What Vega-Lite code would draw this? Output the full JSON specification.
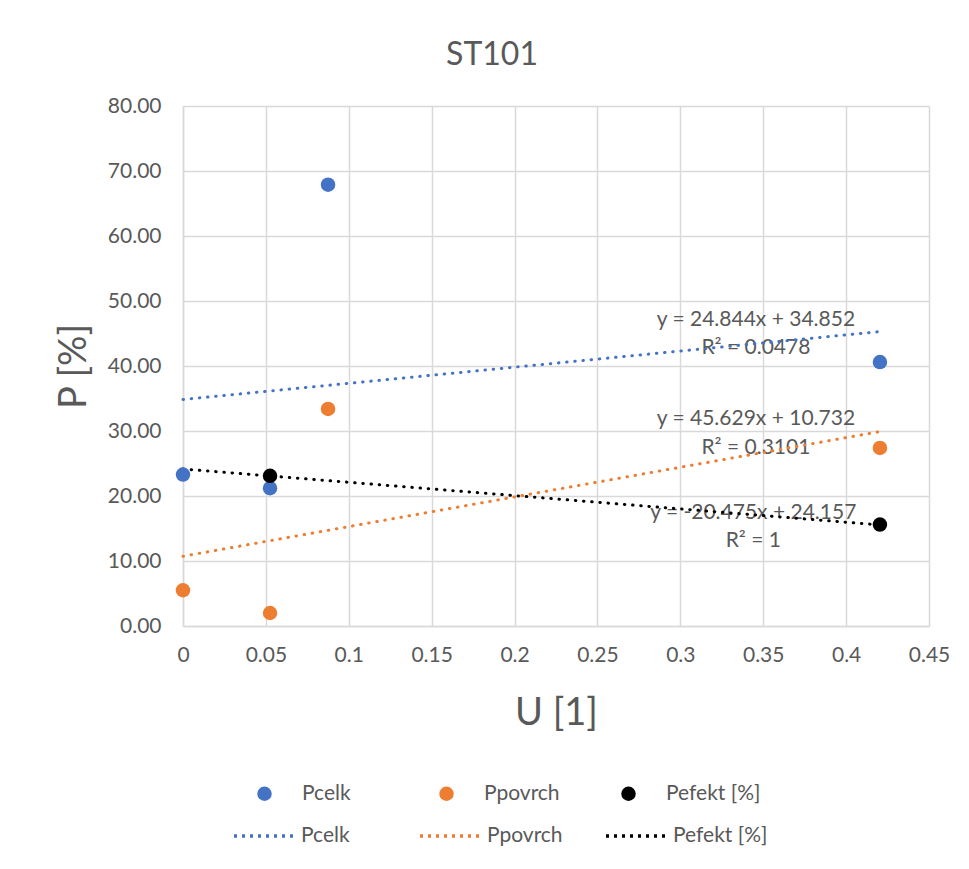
{
  "$schema": "https://vega.github.io/schema/vega-lite/v6.json",
  "width": 746,
  "height": 520,
  "autosize": {"type": "none"},
  "padding": {"left": 183, "top": 106, "right": 40, "bottom": 243},
  "background": "white",
  "title": {
    "text": "ST101",
    "font": "Lato",
    "fontSize": 32,
    "fontWeight": "normal",
    "color": "#595959",
    "anchor": "middle",
    "frame": "group",
    "dx": -64,
    "baseline": "alphabetic",
    "offset": -2
  },
  "datasets": {
    "points": [
      {"series": "Pcelk", "u": 0.0, "p": 23.3},
      {"series": "Pcelk", "u": 0.0525, "p": 21.2},
      {"series": "Pcelk", "u": 0.0875, "p": 67.9},
      {"series": "Pcelk", "u": 0.4204, "p": 40.6},
      {"series": "Ppovrch", "u": 0.0, "p": 5.5},
      {"series": "Ppovrch", "u": 0.0525, "p": 2.0},
      {"series": "Ppovrch", "u": 0.0875, "p": 33.4},
      {"series": "Ppovrch", "u": 0.4204, "p": 27.4},
      {"series": "Pefekt [%]", "u": 0.0525, "p": 23.1},
      {"series": "Pefekt [%]", "u": 0.4204, "p": 15.6}
    ],
    "trend": [
      {"trendline": "Pcelk", "u": 0.0, "p": 34.852},
      {"trendline": "Pcelk", "u": 0.4204, "p": 45.296},
      {"trendline": "Ppovrch", "u": 0.0, "p": 10.732},
      {"trendline": "Ppovrch", "u": 0.4204, "p": 29.914},
      {"trendline": "Pefekt [%]", "u": 0.0, "p": 24.157},
      {"trendline": "Pefekt [%]", "u": 0.4204, "p": 15.549}
    ],
    "labels": [
      {"u": 0.3456, "p": 47.1, "text": "y = 24.844x + 34.852"},
      {"u": 0.3456, "p": 42.8, "text": "R² = 0.0478"},
      {"u": 0.3456, "p": 31.9, "text": "y = 45.629x + 10.732"},
      {"u": 0.3456, "p": 27.4, "text": "R² = 0.3101"},
      {"u": 0.3440, "p": 17.4, "text": "y = -20.475x + 24.157"},
      {"u": 0.3440, "p": 13.1, "text": "R² = 1"}
    ]
  },
  "resolve": {"legend": {"fill": "independent", "stroke": "independent"}},
  "config": {
    "view": {"stroke": null},
    "font": "Lato",
    "axis": {
      "gridColor": "#d9d9d9",
      "gridWidth": 1.5,
      "domainColor": "#d9d9d9",
      "domainWidth": 1.5,
      "ticks": false,
      "tickSize": 0,
      "labelFlush": false,
      "labelColor": "#595959",
      "labelFont": "Lato",
      "labelFontSize": 21,
      "titleColor": "#595959",
      "titleFont": "Lato",
      "titleFontWeight": "normal",
      "titleFontSize": 38
    },
    "legend": {
      "labelColor": "#595959",
      "labelFont": "Lato",
      "labelFontSize": 21,
      "padding": 0,
      "gridAlign": "all",
      "direction": "horizontal",
      "orient": "none",
      "title": null,
      "symbolOpacity": 1
    }
  },
  "layer": [
    {
      "data": {"name": "labels"},
      "mark": {"type": "text", "font": "Lato", "fontSize": 21, "color": "#595959", "align": "center", "baseline": "middle"},
      "encoding": {
        "x": {"field": "u", "type": "quantitative", "scale": {"domain": [0, 0.45]}},
        "y": {"field": "p", "type": "quantitative", "scale": {"domain": [0, 80]}},
        "text": {"field": "text"}
      }
    },
    {
      "data": {"name": "trend"},
      "mark": {"type": "line", "strokeWidth": 3, "strokeDash": [0.5, 7.7], "strokeCap": "round"},
      "encoding": {
        "x": {"field": "u", "type": "quantitative"},
        "y": {"field": "p", "type": "quantitative"},
        "stroke": {
          "field": "trendline",
          "type": "nominal",
          "scale": {"domain": ["Pcelk", "Ppovrch", "Pefekt [%]"], "range": ["#4472C4", "#ED7D31", "#000000"]},
          "legend": {
            "legendX": 49,
            "legendY": 698,
            "symbolType": "stroke",
            "symbolSize": 3600,
            "symbolStrokeWidth": 3.5,
            "symbolDash": [3, 5],
            "symbolOpacity": 1,
            "labelOffset": 5,
            "columnPadding": 17
          }
        }
      }
    },
    {
      "data": {"name": "points"},
      "mark": {"type": "point", "shape": "circle", "filled": true, "size": 210, "opacity": 1},
      "encoding": {
        "x": {
          "field": "u", "type": "quantitative",
          "scale": {"domain": [0, 0.45]},
          "axis": {"title": "U [1]", "values": [0, 0.05, 0.1, 0.15, 0.2, 0.25, 0.3, 0.35, 0.4, 0.45], "format": "~g", "labelPadding": 18, "titlePadding": 29}
        },
        "y": {
          "field": "p", "type": "quantitative",
          "scale": {"domain": [0, 80]},
          "axis": {"title": "P [%]", "values": [0, 10, 20, 30, 40, 50, 60, 70, 80], "format": ".2f", "labelPadding": 22, "titlePadding": 14}
        },
        "fill": {
          "field": "series",
          "type": "nominal",
          "scale": {"domain": ["Pcelk", "Ppovrch", "Pefekt [%]"], "range": ["#4472C4", "#ED7D31", "#000000"]},
          "legend": {
            "legendX": 71,
            "legendY": 677,
            "symbolType": "circle",
            "symbolSize": 210,
            "symbolStrokeWidth": 0,
            "labelOffset": 27,
            "columnPadding": 39
          }
        }
      }
    }
  ]
}
